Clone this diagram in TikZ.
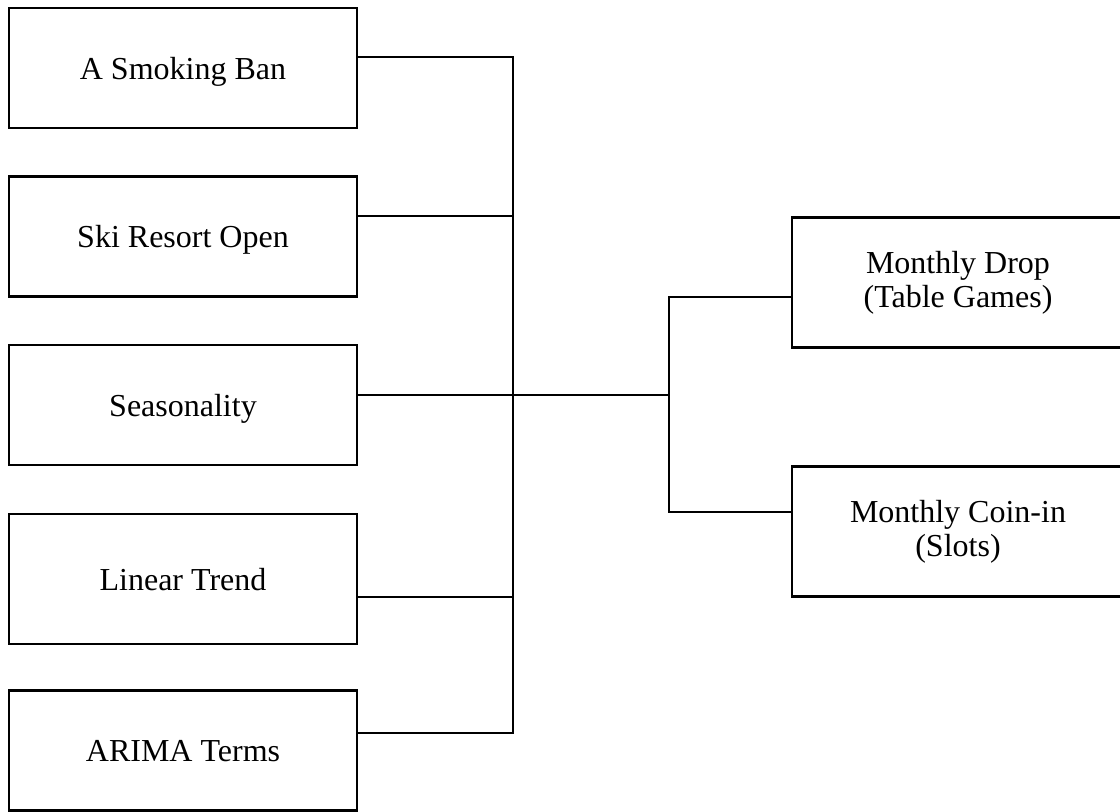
\documentclass[tikz,border=0pt]{standalone}
\usepackage{fontspec}
\setmainfont{Liberation Serif}
\usepackage{tikz}
\usetikzlibrary{calc}
\usetikzlibrary{positioning}

\tikzset{
    factor/.style  = {draw, line width=1.45pt, minimum width=174pt, minimum height=60pt,
                      inner sep=0pt, text depth=0pt, font=\fontsize{16}{18}\selectfont},
    outcome/.style = {draw, line width=1.45pt, minimum width=166pt, minimum height=65pt,
                      inner sep=0pt, align=center, font=\fontsize{16}{17}\selectfont},
    wire/.style    = {line width=1.45pt}
}

\begin{document}
\begin{tikzpicture}[x=0.5pt, y=-0.5pt]
            \useasboundingbox (0,0) rectangle (1120,812);
            % explanatory factors
            \node[factor]                          (ban)    at (183,  68.0) {A Smoking Ban};
            \node[factor]                          (ski)    at (183, 236.5) {Ski Resort Open};
            \node[factor]                          (season) at (183, 405.0) {Seasonality};
            \node[factor, minimum height=65pt]     (trend)  at (183, 579.0) {Linear Trend};
            \node[factor]                          (arima)  at (183, 750.5) {ARIMA Terms};
            % responses
            \node[outcome]                         (drop)   at (958, 282.5) {Monthly Drop\\(Table Games)};
            \node[outcome]                         (coin)   at (958, 531.5) {Monthly Coin-in\\(Slots)};
            % junctions
            \coordinate (jt) at (513, 57);
            \coordinate (jb) at (513, 733);
            \coordinate (jm) at (669, 395);
            \draw[wire] (ban.east |- jt) -- (jt) -- (jb) -- (arima.east |- jb);
            \draw[wire] (ski.east |- 0,216)   -- (jt |- 0,216);
            \draw[wire] (trend.east |- 0,597) -- (jt |- 0,597);
            \draw[wire] (season.east |- jm)   -- (jm);
            \draw[wire] (drop.west |- 0,297) -| (jm) |- (coin.west |- 0,512);
        \end{tikzpicture}
\end{document}
